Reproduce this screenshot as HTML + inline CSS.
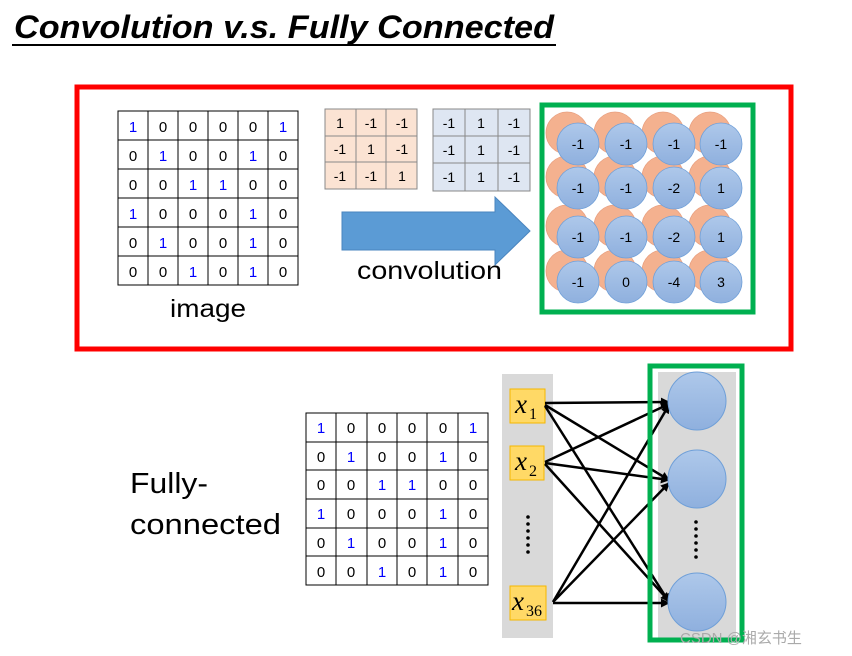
<!DOCTYPE html>
<html><head><meta charset="utf-8"><style>body{margin:0;background:#fff}svg{display:block}</style></head><body>
<svg width="852" height="656" xmlns="http://www.w3.org/2000/svg" font-family="Liberation Sans, sans-serif">
<defs>
<marker id="ah" markerWidth="9" markerHeight="9" refX="8" refY="4.5" orient="auto" markerUnits="userSpaceOnUse"><path d="M0,0 L9,4.5 L0,9 z" fill="#000"/></marker>
<linearGradient id="bg" x1="0" y1="0" x2="0" y2="1"><stop offset="0" stop-color="#aec8ea"/><stop offset="1" stop-color="#8fb0de"/></linearGradient>
</defs>
<text x="14" y="38" font-size="32" font-weight="bold" font-style="italic" textLength="540" lengthAdjust="spacingAndGlyphs">Convolution v.s. Fully Connected</text>
<line x1="12" y1="45" x2="556" y2="45" stroke="#000" stroke-width="2"/>
<rect x="77" y="87" width="714" height="262" fill="none" stroke="#f00" stroke-width="5"/>
<rect x="118" y="111" width="180" height="174" fill="none" stroke="#000"/>
<path d="M148 111V285M178 111V285M208 111V285M238 111V285M268 111V285M118 140H298M118 169H298M118 198H298M118 227H298M118 256H298" stroke="#000"/>
<g font-size="15" text-anchor="middle">
<text x="133" y="132" fill="#00f">1</text><text x="163" y="132">0</text><text x="193" y="132">0</text><text x="223" y="132">0</text><text x="253" y="132">0</text><text x="283" y="132" fill="#00f">1</text>
<text x="133" y="161">0</text><text x="163" y="161" fill="#00f">1</text><text x="193" y="161">0</text><text x="223" y="161">0</text><text x="253" y="161" fill="#00f">1</text><text x="283" y="161">0</text>
<text x="133" y="190">0</text><text x="163" y="190">0</text><text x="193" y="190" fill="#00f">1</text><text x="223" y="190" fill="#00f">1</text><text x="253" y="190">0</text><text x="283" y="190">0</text>
<text x="133" y="219" fill="#00f">1</text><text x="163" y="219">0</text><text x="193" y="219">0</text><text x="223" y="219">0</text><text x="253" y="219" fill="#00f">1</text><text x="283" y="219">0</text>
<text x="133" y="248">0</text><text x="163" y="248" fill="#00f">1</text><text x="193" y="248">0</text><text x="223" y="248">0</text><text x="253" y="248" fill="#00f">1</text><text x="283" y="248">0</text>
<text x="133" y="277">0</text><text x="163" y="277">0</text><text x="193" y="277" fill="#00f">1</text><text x="223" y="277">0</text><text x="253" y="277" fill="#00f">1</text><text x="283" y="277">0</text>
</g>
<text x="170" y="317" font-size="25" textLength="76" lengthAdjust="spacingAndGlyphs">image</text>
<rect x="325" y="109" width="92" height="80" fill="#fbe3d3" stroke="#888"/>
<path d="M356 109V189M386 109V189M325 136H417M325 162H417" stroke="#888"/>
<g font-size="14" text-anchor="middle">
<text x="340" y="128">1</text><text x="371" y="128">-1</text><text x="402" y="128">-1</text>
<text x="340" y="154">-1</text><text x="371" y="154">1</text><text x="402" y="154">-1</text>
<text x="340" y="181">-1</text><text x="371" y="181">-1</text><text x="402" y="181">1</text>
</g>
<rect x="433" y="109" width="97" height="82" fill="#dee6f2" stroke="#888"/>
<path d="M465 109V191M498 109V191M433 136H530M433 163H530" stroke="#888"/>
<g font-size="14" text-anchor="middle">
<text x="449" y="128">-1</text><text x="481" y="128">1</text><text x="514" y="128">-1</text>
<text x="449" y="155">-1</text><text x="481" y="155">1</text><text x="514" y="155">-1</text>
<text x="449" y="182">-1</text><text x="481" y="182">1</text><text x="514" y="182">-1</text>
</g>
<path d="M342 212H495V197L530 231L495 265V250H342Z" fill="#5b9bd5" stroke="#4a85bf"/>
<text x="357" y="279" font-size="25" textLength="145" lengthAdjust="spacingAndGlyphs">convolution</text>
<g stroke="#e8a080" fill="#f4b18f" stroke-width="0.8">
<circle cx="567" cy="133" r="21"/><circle cx="615" cy="133" r="21"/><circle cx="663" cy="133" r="21"/><circle cx="710" cy="133" r="21"/>
<circle cx="567" cy="177" r="21"/><circle cx="615" cy="177" r="21"/><circle cx="663" cy="177" r="21"/><circle cx="710" cy="177" r="21"/>
<circle cx="567" cy="226" r="21"/><circle cx="615" cy="226" r="21"/><circle cx="663" cy="226" r="21"/><circle cx="710" cy="226" r="21"/>
<circle cx="567" cy="271" r="21"/><circle cx="615" cy="271" r="21"/><circle cx="663" cy="271" r="21"/><circle cx="710" cy="271" r="21"/>
</g>
<g stroke="#6f9fd8" fill="url(#bg)" stroke-width="0.8">
<circle cx="578" cy="144" r="21"/><circle cx="626" cy="144" r="21"/><circle cx="674" cy="144" r="21"/><circle cx="721" cy="144" r="21"/>
<circle cx="578" cy="188" r="21"/><circle cx="626" cy="188" r="21"/><circle cx="674" cy="188" r="21"/><circle cx="721" cy="188" r="21"/>
<circle cx="578" cy="237" r="21"/><circle cx="626" cy="237" r="21"/><circle cx="674" cy="237" r="21"/><circle cx="721" cy="237" r="21"/>
<circle cx="578" cy="282" r="21"/><circle cx="626" cy="282" r="21"/><circle cx="674" cy="282" r="21"/><circle cx="721" cy="282" r="21"/>
</g>
<g font-size="14" text-anchor="middle">
<text x="578" y="149">-1</text><text x="626" y="149">-1</text><text x="674" y="149">-1</text><text x="721" y="149">-1</text>
<text x="578" y="193">-1</text><text x="626" y="193">-1</text><text x="674" y="193">-2</text><text x="721" y="193">1</text>
<text x="578" y="242">-1</text><text x="626" y="242">-1</text><text x="674" y="242">-2</text><text x="721" y="242">1</text>
<text x="578" y="287">-1</text><text x="626" y="287">0</text><text x="674" y="287">-4</text><text x="721" y="287">3</text>
</g>
<rect x="542" y="105" width="211" height="207" fill="none" stroke="#00b050" stroke-width="5"/>
<text x="130" y="493" font-size="29" textLength="78" lengthAdjust="spacingAndGlyphs">Fully-</text>
<text x="130" y="534" font-size="29" textLength="151" lengthAdjust="spacingAndGlyphs">connected</text>
<rect x="306" y="413" width="182" height="172" fill="none" stroke="#000"/>
<path d="M336 413V585M367 413V585M397 413V585M427 413V585M458 413V585M306 442H488M306 470H488M306 499H488M306 528H488M306 556H488" stroke="#000"/>
<g font-size="15" text-anchor="middle">
<text x="321" y="433" fill="#00f">1</text><text x="351" y="433">0</text><text x="382" y="433">0</text><text x="412" y="433">0</text><text x="443" y="433">0</text><text x="473" y="433" fill="#00f">1</text>
<text x="321" y="462">0</text><text x="351" y="462" fill="#00f">1</text><text x="382" y="462">0</text><text x="412" y="462">0</text><text x="443" y="462" fill="#00f">1</text><text x="473" y="462">0</text>
<text x="321" y="490">0</text><text x="351" y="490">0</text><text x="382" y="490" fill="#00f">1</text><text x="412" y="490" fill="#00f">1</text><text x="443" y="490">0</text><text x="473" y="490">0</text>
<text x="321" y="519" fill="#00f">1</text><text x="351" y="519">0</text><text x="382" y="519">0</text><text x="412" y="519">0</text><text x="443" y="519" fill="#00f">1</text><text x="473" y="519">0</text>
<text x="321" y="548">0</text><text x="351" y="548" fill="#00f">1</text><text x="382" y="548">0</text><text x="412" y="548">0</text><text x="443" y="548" fill="#00f">1</text><text x="473" y="548">0</text>
<text x="321" y="577">0</text><text x="351" y="577">0</text><text x="382" y="577" fill="#00f">1</text><text x="412" y="577">0</text><text x="443" y="577" fill="#00f">1</text><text x="473" y="577">0</text>
</g>
<rect x="502" y="374" width="51" height="264" fill="#d9d9d9"/>
<rect x="658" y="372" width="78" height="268" fill="#d9d9d9"/>
<g fill="#ffd966" stroke="#f5b800">
<rect x="510" y="389" width="35" height="34"/><rect x="510" y="446" width="34" height="34"/><rect x="510" y="586" width="36" height="34"/>
</g>
<g font-family="Liberation Serif, serif" font-style="italic">
<text x="515" y="413" font-size="27">x</text><text x="529" y="419" font-size="16" font-style="normal">1</text>
<text x="515" y="470" font-size="27">x</text><text x="529" y="476" font-size="16" font-style="normal">2</text>
<text x="512" y="610" font-size="27">x</text><text x="526" y="616" font-size="16" font-style="normal">36</text>
</g>
<g fill="#000"><circle cx="528" cy="517" r="1.8"/><circle cx="528" cy="524" r="1.8"/><circle cx="528" cy="531" r="1.8"/><circle cx="528" cy="538" r="1.8"/><circle cx="528" cy="545" r="1.8"/><circle cx="528" cy="552" r="1.8"/>
<circle cx="696" cy="522" r="1.8"/><circle cx="696" cy="529" r="1.8"/><circle cx="696" cy="536" r="1.8"/><circle cx="696" cy="543" r="1.8"/><circle cx="696" cy="550" r="1.8"/><circle cx="696" cy="557" r="1.8"/></g>
<g stroke="#000" stroke-width="2.5" marker-end="url(#ah)">
<line x1="545" y1="403" x2="669" y2="402"/><line x1="545" y1="405" x2="669" y2="480"/><line x1="545" y1="406" x2="669" y2="602"/>
<line x1="545" y1="462" x2="669" y2="404"/><line x1="545" y1="463" x2="669" y2="480"/><line x1="545" y1="464" x2="669" y2="601"/>
<line x1="553" y1="602" x2="669" y2="405"/><line x1="553" y1="602" x2="669" y2="483"/><line x1="553" y1="603" x2="669" y2="603"/>
</g>
<g stroke="#6f9fd8" fill="url(#bg)">
<circle cx="697" cy="401" r="29"/><circle cx="697" cy="479" r="29"/><circle cx="697" cy="602" r="29"/>
</g>
<rect x="650" y="366" width="92" height="274" fill="none" stroke="#00b050" stroke-width="5"/>
<text x="680" y="643" font-size="15" fill="#aaa" font-family="Liberation Sans, Noto Sans CJK SC, sans-serif">CSDN @湘玄书生</text>
</svg>
</body></html>
